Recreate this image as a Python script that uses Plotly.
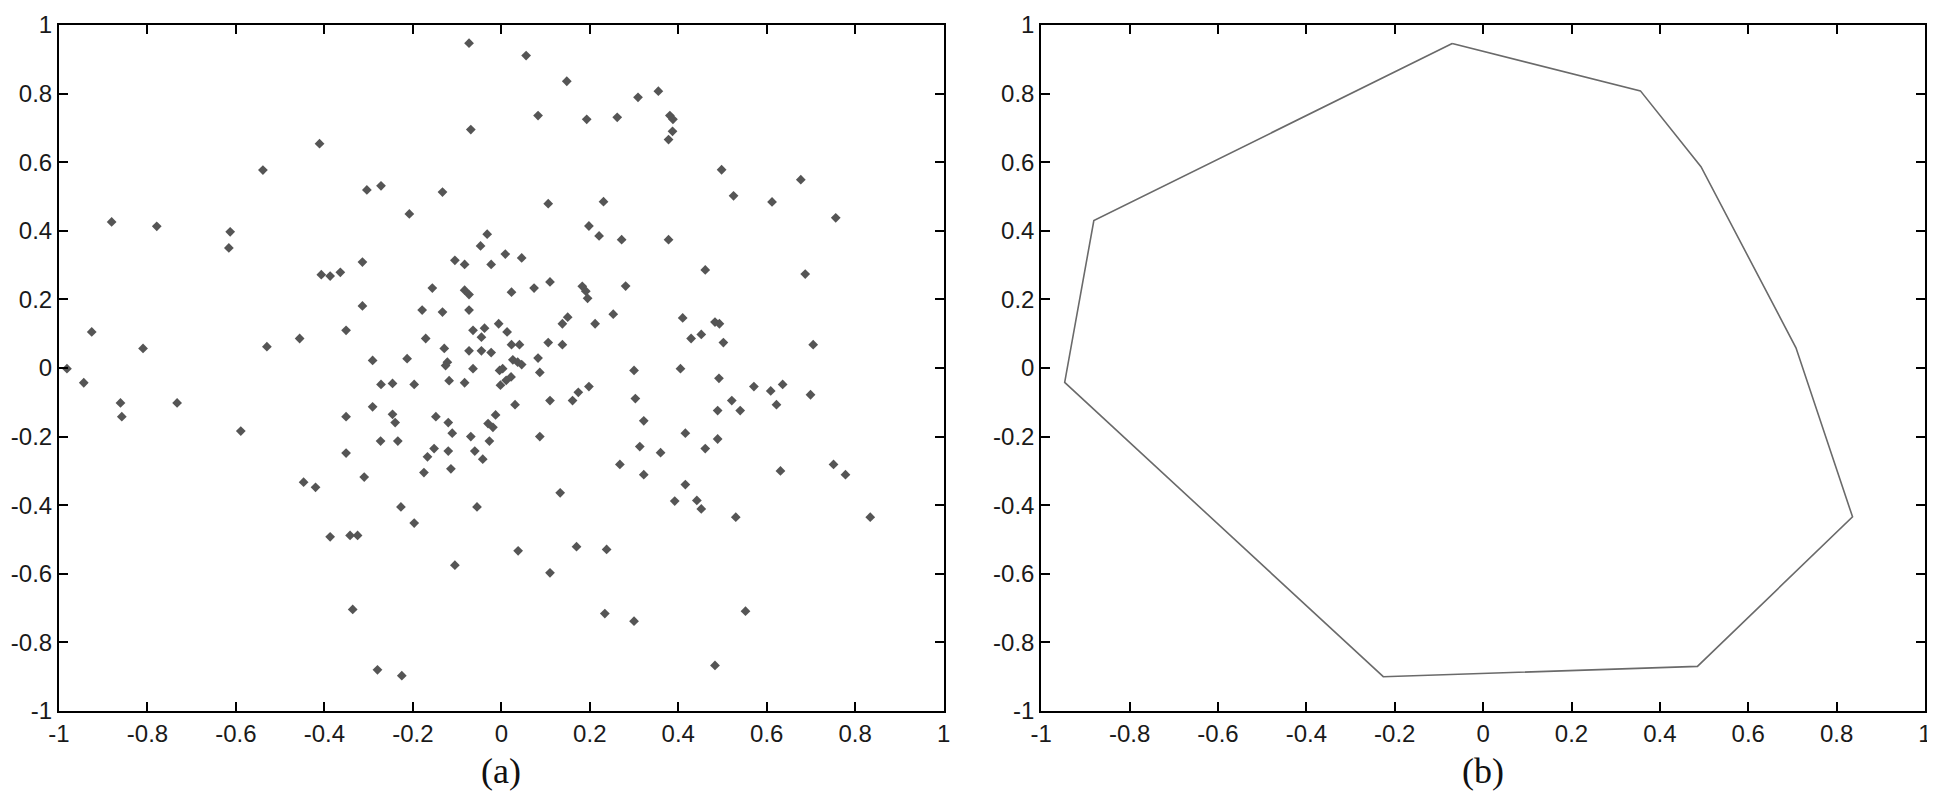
import plotly.graph_objects as go

# (a) scattered sample points
pts_x = [
    -0.073, 0.056, 0.148, 0.355, 0.309, 0.083, 0.193, 0.262, 0.381, 0.388,
    0.387, 0.378, -0.069, -0.411, -0.539, 0.498, 0.677, -0.304, -0.272, -0.133,
    0.525, 0.612, 0.106, 0.231, -0.208, 0.756, -0.881, -0.779, 0.198, -0.613,
    -0.616, -0.032, 0.221, 0.272, 0.378, -0.047, 0.009, 0.046, -0.314, -0.105,
    -0.083, -0.023, 0.461, 0.687, -0.407, -0.387, -0.364, -0.156, -0.083, -0.073,
    0.023, 0.074, 0.110, 0.183, 0.191, 0.195, 0.281, -0.314, -0.179, -0.133,
    -0.073, 0.253, 0.410, 0.483, 0.493, 0.150, 0.138, 0.212, -0.006, -0.926,
    -0.351, -0.064, -0.038, 0.013, -0.456, -0.171, -0.045, 0.429, 0.452, 0.502,
    0.705, 0.106, 0.138, 0.023, 0.041, -0.810, -0.530, -0.129, -0.073, -0.045,
    -0.023, -0.291, -0.213, -0.122, -0.126, -0.064, -0.982, 0.026, 0.037, 0.046,
    0.083, 0.087, 0.300, 0.405, 0.492, -0.004, 0.003, 0.022, 0.011, -0.002,
    -0.944, -0.861, -0.858, -0.733, -0.589, -0.272, -0.246, -0.197, -0.118, -0.083,
    -0.291, -0.351, -0.246, -0.240, -0.148, -0.120, -0.111, -0.069, -0.030, -0.019,
    -0.013, -0.027, -0.273, -0.234, -0.351, -0.152, -0.167, -0.120, -0.060, -0.042,
    -0.175, -0.114, -0.310, -0.447, -0.420, -0.227, -0.055, -0.197, -0.387, -0.342,
    -0.325, -0.105, -0.336, -0.280, -0.225, 0.110, 0.161, 0.174, 0.198, 0.031,
    0.087, 0.303, 0.322, 0.313, 0.322, 0.360, 0.268, 0.133, 0.038, 0.110,
    0.170, 0.238, 0.234, 0.300, 0.416, 0.489, 0.489, 0.461, 0.416, 0.392,
    0.442, 0.452, 0.521, 0.540, 0.571, 0.609, 0.622, 0.636, 0.699, 0.631,
    0.530, 0.751, 0.778, 0.834, 0.552, 0.483,
]
pts_y = [
    0.947, 0.911, 0.836, 0.807, 0.789, 0.736, 0.725, 0.731, 0.736, 0.725,
    0.690, 0.666, 0.695, 0.654, 0.577, 0.578, 0.549, 0.519, 0.531, 0.513,
    0.502, 0.484, 0.479, 0.485, 0.449, 0.438, 0.426, 0.413, 0.414, 0.397,
    0.350, 0.390, 0.385, 0.374, 0.374, 0.356, 0.332, 0.321, 0.309, 0.314,
    0.302, 0.302, 0.286, 0.274, 0.272, 0.268, 0.279, 0.233, 0.227, 0.214,
    0.221, 0.233, 0.251, 0.238, 0.224, 0.203, 0.239, 0.181, 0.169, 0.163,
    0.169, 0.157, 0.146, 0.134, 0.129, 0.148, 0.129, 0.129, 0.129, 0.105,
    0.110, 0.110, 0.116, 0.105, 0.086, 0.086, 0.090, 0.086, 0.098, 0.074,
    0.068, 0.074, 0.068, 0.068, 0.068, 0.057, 0.062, 0.057, 0.050, 0.050,
    0.045, 0.022, 0.027, 0.017, 0.007, -0.002, -0.002, 0.024, 0.017, 0.010,
    0.029, -0.013, -0.007, -0.002, -0.030, -0.007, -0.002, -0.026, -0.036, -0.050,
    -0.043, -0.102, -0.142, -0.102, -0.184, -0.048, -0.045, -0.048, -0.037, -0.043,
    -0.113, -0.142, -0.135, -0.159, -0.142, -0.159, -0.190, -0.200, -0.162, -0.173,
    -0.137, -0.213, -0.213, -0.213, -0.248, -0.235, -0.259, -0.242, -0.242, -0.266,
    -0.305, -0.294, -0.318, -0.333, -0.348, -0.405, -0.405, -0.452, -0.492, -0.488,
    -0.488, -0.575, -0.704, -0.880, -0.897, -0.095, -0.095, -0.071, -0.054, -0.107,
    -0.200, -0.089, -0.154, -0.229, -0.311, -0.247, -0.281, -0.364, -0.533, -0.597,
    -0.521, -0.529, -0.716, -0.738, -0.190, -0.124, -0.207, -0.235, -0.340, -0.388,
    -0.386, -0.411, -0.095, -0.124, -0.054, -0.067, -0.107, -0.048, -0.078, -0.300,
    -0.435, -0.281, -0.311, -0.435, -0.709, -0.867,
]

# (b) boundary polygon
hull_x = [-0.070, 0.356, 0.493, 0.708, 0.836, 0.485, -0.226, -0.947, -0.881, -0.070]
hull_y = [0.946, 0.808, 0.587, 0.059, -0.434, -0.870, -0.900, -0.042, 0.430, 0.946]

tick_vals = [-1, -0.8, -0.6, -0.4, -0.2, 0, 0.2, 0.4, 0.6, 0.8, 1]
tick_text = ["-1", "-0.8", "-0.6", "-0.4", "-0.2", "0", "0.2", "0.4", "0.6", "0.8", "1"]
panel_labels = ["(a)", "(b)"]

fig = go.Figure()
fig.add_trace(go.Scatter(
    x=pts_x, y=pts_y, mode="markers",
    marker=dict(symbol="diamond", size=7.5, color="#555555"),
    xaxis="x", yaxis="y", showlegend=False,
))
fig.add_trace(go.Scatter(
    x=hull_x, y=hull_y, mode="lines",
    line=dict(color="#6a6a6a", width=1.6),
    xaxis="x2", yaxis="y2", showlegend=False,
))

axis_style = dict(
    range=[-1, 1], tickvals=tick_vals, ticktext=tick_text,
    ticks="inside", ticklen=9, tickwidth=2, tickcolor="black",
    showline=True, linecolor="black", linewidth=2, mirror="ticks",
    showgrid=False, zeroline=False, fixedrange=True,
    ticklabeloverflow="allow",
    tickfont=dict(family="Liberation Sans, Arial", size=24, color="#1a1a1a"),
)

# the page body adds an 8px margin, so the figure is 8px smaller than the window
fig.update_layout(
    width=1927, height=803,
    margin=dict(l=46, r=6, t=3, b=100),
    plot_bgcolor="white", paper_bgcolor="white",
    xaxis=dict(domain=[0, 0.4741], anchor="y", **axis_style),
    yaxis=dict(domain=[0, 1], anchor="x", **axis_style),
    xaxis2=dict(domain=[0.5264, 1], anchor="y2", **axis_style),
    yaxis2=dict(domain=[0, 1], anchor="x2", **axis_style),
)

for lbl, cx in zip(panel_labels, [0.237, 0.763]):
    fig.add_annotation(
        text=lbl, x=cx, y=-0.087, xref="paper", yref="paper",
        showarrow=False, xanchor="center", yanchor="middle",
        font=dict(family="Liberation Serif, Times New Roman", size=36, color="#111111"),
    )

fig.write_html("out.html")
